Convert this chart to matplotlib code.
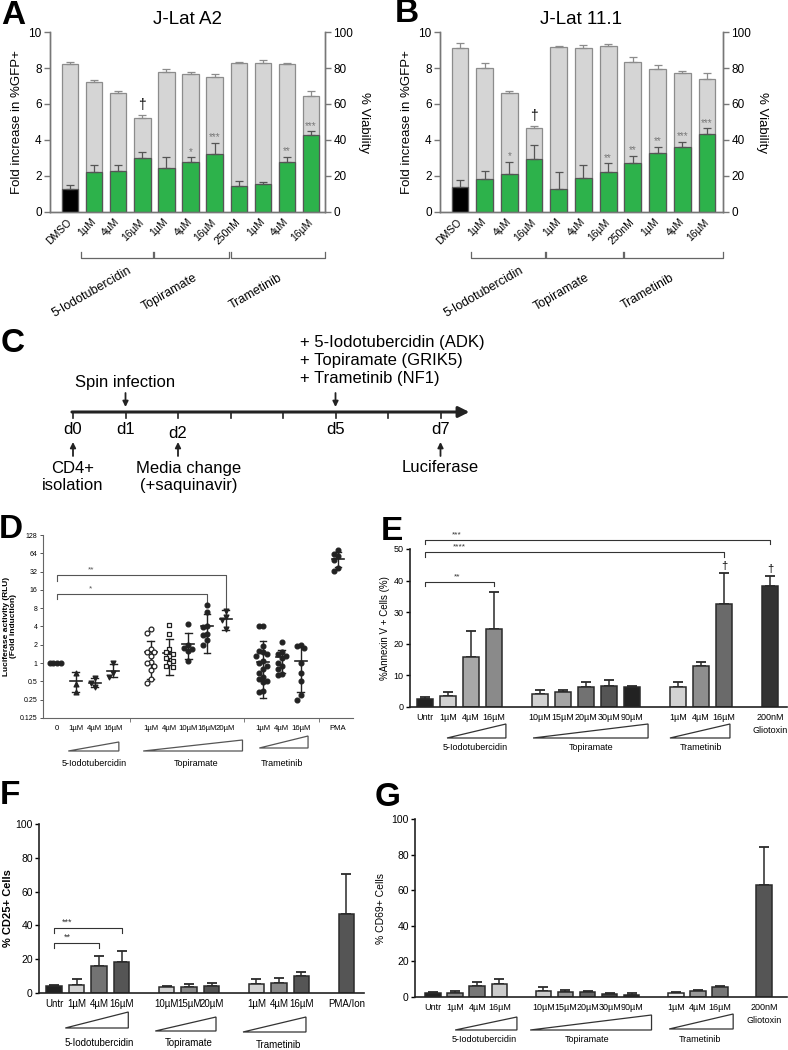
import numpy as np
import matplotlib
matplotlib.use("Agg")
import matplotlib.pyplot as plt
from matplotlib import transforms
from matplotlib.patches import Polygon

plt.rcParams['font.family'] = ['Liberation Sans', 'DejaVu Sans']

W, H = 788, 1050
fig = plt.figure(figsize=(W / 100, H / 100), dpi=100)


def axes_px(x0, y0, x1, y1):
    return fig.add_axes([x0 / W, 1 - y1 / H, (x1 - x0) / W, (y1 - y0) / H])


def fy(ypix):
    return 1 - ypix / H


def xblend(ax):
    return transforms.blended_transform_factory(ax.transData, fig.transFigure)


# ── A / B : J-Lat data ──
jlat_labels = ["DMSO", "1µM", "4µM", "16µM", "1µM", "4µM", "16µM", "250nM", "1µM", "4µM", "16µM"]
jlat_groups = ["5-Iodotubercidin", "Topiramate", "Trametinib"]

a_via = [82.5, 72.5, 66, 52.5, 78, 76.8, 75.2, 83, 83, 82, 64.5]
a_via_err = [1, 1, 1.5, 1.5, 1.5, 1, 1.5, 0.5, 1.5, 1, 2.5]
a_gfp = [1.3, 2.25, 2.3, 3.0, 2.42, 2.78, 3.25, 1.45, 1.55, 2.8, 4.27]
a_gfp_err = [0.22, 0.38, 0.3, 0.35, 0.62, 0.25, 0.6, 0.3, 0.13, 0.28, 0.22]
a_stars = ["", "", "", "", "", "*", "***", "", "", "**", "***"]

b_via = [91, 80, 66, 46.5, 91.5, 91, 92, 83.5, 79.5, 77, 74]
b_via_err = [3, 3, 1.5, 1.5, 1, 2, 1.5, 2.5, 2, 1.5, 3.5]
b_gfp = [1.38, 1.83, 2.1, 2.92, 1.28, 1.88, 2.22, 2.7, 3.28, 3.63, 4.35]
b_gfp_err = [0.4, 0.47, 0.7, 0.78, 0.93, 0.72, 0.5, 0.43, 0.35, 0.27, 0.32]
b_stars = ["", "", "*", "", "", "", "**", "**", "**", "***", "***"]

# ── D : luciferase ──
d_pos = [0, 1, 2, 3, 5, 6, 7, 8, 9, 11, 12, 13, 15]
d_labels = ["0", "1µM", "4µM", "16µM", "1µM", "4µM", "10µM", "16µM", "20µM", "1µM", "4µM", "16µM", "PMA"]
d_points = [
    [1, 1, 1, 1],
    [0.7, 0.45, 0.34],
    [0.56, 0.47, 0.4],
    [1.0, 0.7, 0.6],
    [3.6, 3.1, 1.7, 1.55, 1.5, 1.3, 1.05, 1.0, 0.9, 0.77, 0.54, 0.47],
    [4.2, 3.0, 1.7, 1.5, 1.4, 1.3, 1.2, 1.1, 1.0, 0.9, 0.85],
    [4.4, 2.0, 1.8, 1.7, 1.6, 1.1],
    [9.0, 7.0, 4.0, 3.9, 3.0, 2.9, 2.4, 2.0],
    [7.2, 5.8, 5.2, 3.6],
    [4.0, 4.0, 1.9, 1.6, 1.5, 1.4, 1.3, 1.1, 1.0, 0.9, 0.8, 0.7, 0.6, 0.55, 0.5, 0.48, 0.35, 0.33],
    [2.2, 1.5, 1.4, 1.3, 1.2, 1.0, 0.9, 0.8, 0.65, 0.63],
    [2.0, 1.9, 1.8, 1.0, 0.7, 0.5, 0.3, 0.25],
    [72, 62, 58, 50, 37, 33],
]
d_mean = [1.0, 0.5, 0.47, 0.75, 1.5, 1.45, 2.1, 4.0, 5.3, 1.03, 1.25, 1.1, 52]
d_lo = [1.0, 0.33, 0.4, 0.58, 0.55, 0.64, 1.15, 1.45, 3.5, 0.27, 0.7, 0.33, 38]
d_hi = [1.0, 0.72, 0.56, 0.97, 2.33, 2.5, 3.1, 6.4, 7.5, 2.33, 1.65, 1.85, 66]
d_markers = ['o', '^', 'v', 'v', 'o', 's', 'o', 'o', 'v', 'o', 'o', 'o', 'o']
d_filled = [True, True, True, True, False, False, True, True, True, True, True, True, True]

# ── E : Annexin V ──
e_pos = [0, 1, 2, 3, 5, 6, 7, 8, 9, 11, 12, 13, 15]
e_labels = ["Untr", "1µM", "4µM", "16µM", "10µM", "15µM", "20µM", "30µM", "90µM",
            "1µM", "4µM", "16µM", "200nM\nGliotoxin"]
e_vals = [2.4, 3.5, 15.9, 24.6, 4.0, 4.6, 6.2, 6.7, 6.2, 6.4, 12.9, 32.5, 38.2]
e_err = [0.8, 1.2, 8.1, 11.8, 1.4, 0.7, 1.6, 2.0, 0.5, 1.6, 1.3, 9.9, 3.2]
e_colors = ['#222222', '#d2d2d2', '#a8a8a8', '#8a8a8a', '#d2d2d2', '#a4a4a4', '#727272',
            '#555555', '#222222', '#d2d2d2', '#8e8e8e', '#6a6a6a', '#333333']

# ── F : CD25 ──
f_pos = [0, 1, 2, 3, 5, 6, 7, 9, 10, 11, 13]
f_labels = ["Untr", "1µM", "4µM", "16µM", "10µM", "15µM", "20µM", "1µM", "4µM", "16µM", "PMA/Ion"]
f_vals = [4.0, 5.0, 16.0, 18.5, 3.3, 3.8, 4.3, 5.5, 6.0, 9.8, 47.0]
f_err = [0.8, 3.0, 6.0, 6.5, 0.8, 1.8, 1.4, 3.0, 2.8, 2.8, 23.5]
f_colors = ['#222222', '#d2d2d2', '#737373', '#555555', '#d2d2d2', '#8a8a8a', '#555555',
            '#d2d2d2', '#8a8a8a', '#555555', '#555555']

# ── G : CD69 ──
g_pos = [0, 1, 2, 3, 5, 6, 7, 8, 9, 11, 12, 13, 15]
g_labels = e_labels
g_vals = [2.4, 2.4, 6.2, 7.5, 3.4, 2.8, 2.8, 1.5, 1.3, 2.0, 3.4, 5.6, 63.2]
g_err = [0.4, 1.1, 2.2, 2.4, 2.2, 1.3, 0.8, 0.5, 0.7, 0.9, 0.8, 0.7, 20.8]
g_colors = ['#222222', '#8a8a8a', '#777777', '#cccccc', '#cccccc', '#999999', '#666666',
            '#444444', '#222222', '#eeeeee', '#999999', '#777777', '#555555']


def panel_label(txt, x, y):
    fig.text(x / W, fy(y), txt, fontsize=24, fontweight='bold', va='center', ha='center')


# ───────── A / B ─────────
def jlat_panel(x0, x1, xlim, title, via, via_err, gfp, gfp_err, stars, dagger,
               group_spans, group_x):
    ax = axes_px(x0, 32, x1, 212)
    ax2 = ax.twinx()
    n = len(via)
    x = np.arange(n)
    ax2.bar(x, via, width=0.68, color='#d5d5d5', edgecolor='#8c8c8c', lw=0.9)
    ax2.errorbar(x, via, yerr=[np.zeros(n), via_err], fmt='none', ecolor='#8c8c8c',
                 elinewidth=0.9, capsize=3, capthick=0.9)
    cols = ['black'] + ['#2db24b'] * (n - 1)
    ax.bar(x, gfp, width=0.68, color=cols, edgecolor='#555555', lw=0.9)
    ax.errorbar(x, gfp, yerr=[np.zeros(n), gfp_err], fmt='none', ecolor='#555555',
                elinewidth=0.9, capsize=3, capthick=0.9)
    ax.set_zorder(ax2.get_zorder() + 1)
    ax.patch.set_visible(False)
    for i, s in enumerate(stars):
        if s:
            ax.text(i, gfp[i] + gfp_err[i] + 0.02, s, ha='center', va='bottom',
                    fontsize=7, color='#777777')
    ax2.text(dagger, via[dagger] + via_err[dagger] + 1.5, '†', ha='center', va='bottom', fontsize=10)

    ax.set_xlim(*xlim)
    ax.set_ylim(0, 10)
    ax2.set_ylim(0, 100)
    ax.set_yticks([0, 2, 4, 6, 8, 10])
    ax2.set_yticks([0, 20, 40, 60, 80, 100])
    for a in (ax, ax2):
        a.spines['top'].set_visible(False)
        for s in ('left', 'right', 'bottom'):
            a.spines[s].set_color('#777777')
            a.spines[s].set_linewidth(1.0)
        a.tick_params(axis='y', labelsize=8.5, color='#777777', length=4, width=1.0, pad=2)
    ax.set_xticks(x)
    ax.set_xticklabels(jlat_labels, rotation=45, ha='right', va='center',
                       rotation_mode='anchor', fontsize=7.5)
    ax.tick_params(axis='x', length=0, pad=6)
    ax.set_ylabel('Fold increase in %GFP+', fontsize=9.5, labelpad=4)
    ax2.set_ylabel('% Viability', fontsize=9.5, rotation=270, labelpad=12)
    ax.set_title(title, fontsize=13.5, pad=6)

    tr = xblend(ax)
    for (g0, g1), gx, name in zip(group_spans, group_x, jlat_groups):
        ax.plot([g0, g0, g1, g1], [fy(252), fy(258), fy(258), fy(252)], color='#666666',
                lw=0.9, transform=tr, clip_on=False)
        ax.text(gx, fy(292), name, rotation=30, ha='center', va='center', fontsize=9,
                transform=tr, rotation_mode='anchor')
    return ax


jlat_panel(50, 325, (-0.83, 10.58), 'J-Lat A2', a_via, a_via_err, a_gfp, a_gfp_err, a_stars, 3,
           [(0.46, 3.44), (3.5, 6.6), (6.66, 10.58)], [0.9, 4.15, 7.7])
jlat_panel(440, 723, (-0.81, 10.65), 'J-Lat 11.1', b_via, b_via_err, b_gfp, b_gfp_err, b_stars, 3,
           [(0.46, 3.44), (3.5, 6.6), (6.66, 10.65)], [0.95, 4.1, 7.6])
panel_label('A', 13, 15)
panel_label('B', 407, 14)

# ───────── C : timeline ─────────
days = [0, 1, 2, 3, 4, 5, 6, 7]
day_names = {0: "d0", 1: "d1", 2: "d2", 5: "d5", 7: "d7"}
day_x0, day_dx = 73, 52.5
axc = axes_px(0, 330, W, 500)
axc.set_xlim(-day_x0 / day_dx, (W - day_x0) / day_dx)
axc.set_ylim(500, 330)
axc.axis('off')
ly = 412
axc.annotate('', xy=(7.55, ly), xytext=(-0.02, ly),
             arrowprops=dict(arrowstyle='-|>', lw=2.2, color='#222222', mutation_scale=16,
                             shrinkA=0, shrinkB=0))
for d in days:
    axc.plot([d, d], [ly, ly + 6], color='#222222', lw=1.2)
for d, name in day_names.items():
    axc.text(d, 434 if d == 2 else 430, name, ha='center', va='center', fontsize=12)


def c_arrow(d, ystart, yend):
    axc.annotate('', xy=(d, yend), xytext=(d, ystart),
                 arrowprops=dict(arrowstyle='-|>', lw=1.3, color='#222222', mutation_scale=8,
                                 shrinkA=0, shrinkB=0))


c_arrow(1, 393, 407)
c_arrow(5, 393, 407)
c_arrow(0, 456, 442)
c_arrow(2, 456, 442)
c_arrow(7, 456, 442)
axc.text(1, 382, 'Spin infection', ha='center', va='center', fontsize=12)
axc.text((300 - day_x0) / day_dx, 335,
         '+ 5-Iodotubercidin (ADK)\n+ Topiramate (GRIK5)\n+ Trametinib (NF1)',
         ha='left', va='top', fontsize=12, linespacing=1.25)
axc.text(0, 461, 'CD4+\nisolation', ha='center', va='top', fontsize=12, linespacing=1.15)
axc.text(2.2, 461, 'Media change\n(+saquinavir)', ha='center', va='top', fontsize=12, linespacing=1.15)
axc.text(7, 468, 'Luciferase', ha='center', va='center', fontsize=12)
panel_label('C', 13, 343)


def wedge(ax, x0, x1, ytop, ybot, color='#333333'):
    tr = xblend(ax)
    poly = Polygon([[x0, fy(ybot)], [x1, fy(ybot)], [x1, fy(ytop)]], closed=True,
                   fill=False, edgecolor=color, lw=0.9, transform=tr, clip_on=False)
    ax.add_patch(poly)


def bracket(ax, x0, x1, y, drop0, drop1, txt, tx, ty, fs=6, color='#333333', lw=0.8):
    ax.plot([x0, x0, x1, x1], [drop0, y, y, drop1], color=color, lw=lw, clip_on=False)
    ax.text(tx, ty, txt, ha='center', va='bottom', fontsize=fs, color=color)


# ───────── D : luciferase dot plot ─────────
axd = axes_px(43, 535, 353, 718)
axd.set_yscale('log', base=2)
axd.set_ylim(0.125, 128)
axd.set_xlim(-0.75, 15.8)
for pos, pts, mk, filled, m, lo, hi in zip(d_pos, d_points, d_markers, d_filled, d_mean, d_lo, d_hi):
    # simple swarm: spread points with similar values sideways
    placed = []
    order = np.argsort(pts)[::-1]
    for idx in order:
        v = pts[idx]
        for k in [0, -1, 1, -2, 2, -3, 3]:
            off = k * 0.2
            if all(abs(off - po) > 0.18 or abs(np.log2(v) - np.log2(pv)) > 0.3 for po, pv in placed):
                break
        placed.append((off, v))
    xs = [pos + o for o, _ in placed]
    ys = [v for _, v in placed]
    axd.scatter(xs, ys, s=12, marker=mk, facecolors='#222222' if filled else 'white',
                edgecolors='#222222', linewidths=0.9, zorder=3)
    if hi > lo:
        axd.plot([pos, pos], [lo, hi], color='#222222', lw=1.0, zorder=2)
        axd.plot([pos - 0.18, pos + 0.18], [lo, lo], color='#222222', lw=1.0, zorder=2)
        axd.plot([pos - 0.18, pos + 0.18], [hi, hi], color='#222222', lw=1.0, zorder=2)
        axd.plot([pos - 0.32, pos + 0.32], [m, m], color='#222222', lw=1.2, zorder=2)
yt = [0.125, 0.25, 0.5, 1, 2, 4, 8, 16, 32, 64, 128]
axd.set_yticks(yt)
axd.set_yticklabels(['0.125', '0.25', '0.5', '1', '2', '4', '8', '16', '32', '64', '128'])
axd.yaxis.set_minor_locator(matplotlib.ticker.NullLocator())
axd.tick_params(axis='y', labelsize=5, length=2.5, width=0.7, pad=1.5, color='#555555')
axd.set_xticks(d_pos)
axd.set_xticklabels(d_labels, fontsize=5.6)
axd.tick_params(axis='x', length=0, pad=5)
axd.set_xticks([3.9, 10, 14], minor=True)
axd.tick_params(axis='x', which='minor', length=3, color='#666666')
for s in ('top', 'right'):
    axd.spines[s].set_visible(False)
for s in ('left', 'bottom'):
    axd.spines[s].set_color('#666666')
    axd.spines[s].set_linewidth(0.8)
axd.set_ylabel('Luciferase activity (RLU)\n(Fold induction)', fontsize=6, fontweight='bold',
               labelpad=2, linespacing=1.1)
bracket(axd, 0, 9, 28, 22, 7.6, '**', 1.8, 30, fs=6, color='#555555')
bracket(axd, 0, 8, 13.5, 11.3, 9.8, '*', 1.8, 14.5, fs=6, color='#555555')
wedge(axd, 0.6, 3.3, 742, 751, '#555555')
wedge(axd, 4.6, 9.9, 740, 751, '#555555')
wedge(axd, 10.8, 13.4, 736, 748, '#555555')
trd = xblend(axd)
for gx, name in zip([2.0, 7.4, 12.0], jlat_groups):
    axd.text(gx, fy(763), name, ha='center', va='center', fontsize=6.5, transform=trd)
panel_label('D', 11, 530)


# ───────── bar panels E / F / G ─────────
def bar_panel(ax, pos, vals, err, colors, labels, ymax, ystep, xlim, tick_fs, lab_fs):
    ax.bar(pos, vals, width=0.7, color=colors, edgecolor='#2a2a2a', lw=1.1, zorder=2)
    ax.errorbar(pos, vals, yerr=[np.zeros(len(vals)), err], fmt='none', ecolor='#2a2a2a',
                elinewidth=1.1, capsize=3.5, capthick=1.3, zorder=1)
    ax.set_xlim(*xlim)
    ax.set_ylim(0, ymax)
    ax.set_yticks(np.arange(0, ymax + 1, ystep))
    ax.set_xticks(pos)
    ax.set_xticklabels(labels, fontsize=lab_fs, linespacing=1.6, va='top')
    ax.tick_params(axis='x', length=0, pad=4)
    ax.tick_params(axis='y', labelsize=tick_fs, length=3, width=1.0, pad=1.5)
    for s in ('top', 'right'):
        ax.spines[s].set_visible(False)
    for s in ('left', 'bottom'):
        ax.spines[s].set_linewidth(1.2)
        ax.spines[s].set_color('#222222')


axe = axes_px(410, 549, 787, 707)
bar_panel(axe, e_pos, e_vals, e_err, e_colors, e_labels, 50, 10, (-0.65, 15.74), 6.5, 6.5)
axe.set_ylabel('%Annexin V + Cells (%)', fontsize=7, labelpad=3)
bracket(axe, 0, 3, 39.7, 38.2, 38.2, '**', 1.4, 40.2)
bracket(axe, 0, 13, 49.0, 47.6, 47.6, '****', 1.5, 49.5)
bracket(axe, 0, 15, 53.0, 51.6, 51.6, '***', 1.4, 53.5)
for i in (11, 12):
    axe.text(e_pos[i], e_vals[i] + e_err[i] + 0.6, '†', ha='center', va='bottom', fontsize=8)
wedge(axe, 0.96, 3.52, 724, 738)
wedge(axe, 4.7, 9.7, 724, 738)
wedge(axe, 10.65, 13.26, 724, 738)
tre = xblend(axe)
for gx, name in zip([2.2, 7.2, 12.0], jlat_groups):
    axe.text(gx, fy(747), name, ha='center', va='center', fontsize=6.5, transform=tre)
panel_label('E', 392, 532)

axf = axes_px(39, 824, 364, 993)
bar_panel(axf, f_pos, f_vals, f_err, f_colors, f_labels, 100, 20, (-0.67, 13.78), 7.5, 7)
axf.set_ylabel('% CD25+ Cells', fontsize=8, fontweight='bold', labelpad=2)
bracket(axf, 0, 3, 38.4, 35.4, 35.4, '***', 0.6, 39.0, fs=6.5)
bracket(axf, 0, 2, 29.5, 26.6, 26.6, '**', 0.6, 30.1, fs=6.5)
wedge(axf, 0.5, 3.3, 1012, 1028)
wedge(axf, 4.5, 7.2, 1017, 1031)
wedge(axf, 8.4, 11.2, 1017, 1032)
trf = xblend(axf)
for gx, name, gy in zip([2.0, 6.0, 10.0], jlat_groups, [1043, 1043, 1045]):
    axf.text(gx, fy(gy), name, ha='center', va='center', fontsize=7, transform=trf)
panel_label('F', 10, 795)

axg = axes_px(415, 819, 787, 997)
bar_panel(axg, g_pos, g_vals, g_err, g_colors, g_labels, 100, 20, (-0.82, 16.04), 7.5, 6.5)
axg.set_ylabel('% CD69+ Cells', fontsize=7.5, labelpad=4)
wedge(axg, 1.0, 3.8, 1017, 1030)
wedge(axg, 4.4, 9.9, 1015, 1030)
wedge(axg, 10.7, 13.6, 1014, 1029)
trg = xblend(axg)
for gx, name in zip([2.3, 7.0, 12.1], jlat_groups):
    axg.text(gx, fy(1040), name, ha='center', va='center', fontsize=6.5, transform=trg)
panel_label('G', 388, 797)

fig.savefig('out.png', dpi=100)
plt.close(fig)
